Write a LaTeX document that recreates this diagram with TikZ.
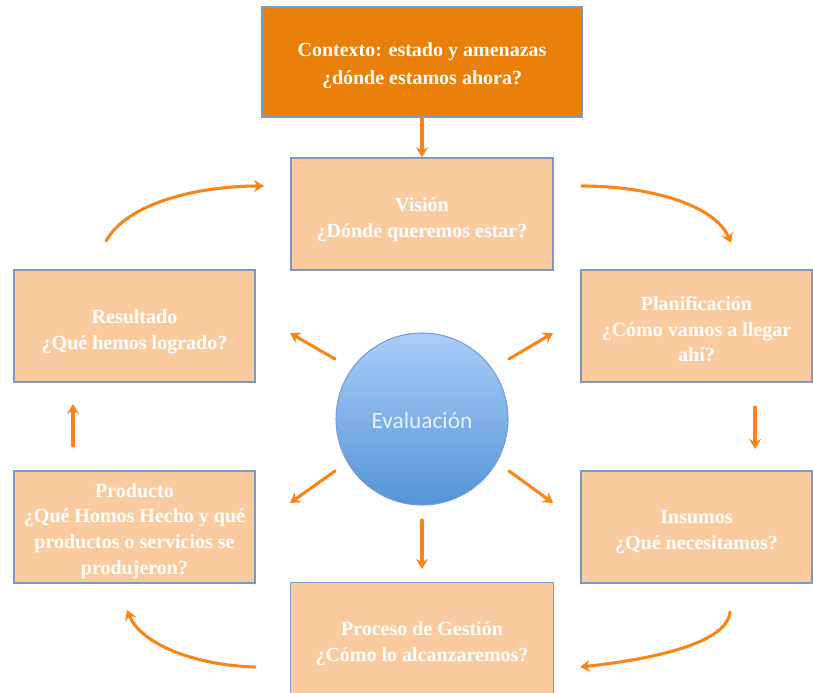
\documentclass[tikz,border=0pt]{standalone}
\usepackage{fontspec}
\setmainfont{Liberation Serif}
\newfontfamily\evalfont{Carlito}
\usetikzlibrary{arrows.meta,shadows}
\definecolor{ctxfill}{RGB}{233,128,9}
\definecolor{peach}{RGB}{251,203,160}
\definecolor{boxline}{RGB}{124,152,196}
\definecolor{arrorange}{RGB}{250,132,22}
\definecolor{circtop}{RGB}{170,205,250}
\definecolor{circbot}{RGB}{84,148,214}
\definecolor{circline}{RGB}{118,158,212}
\definecolor{evaltext}{RGB}{232,240,250}
\begin{document}
\begin{tikzpicture}[x=0.75pt,y=-0.75pt,
  stagebox/.style={draw=boxline, line width=1.1pt, fill=peach, inner sep=0pt,
    drop shadow={shadow xshift=0.6pt, shadow yshift=-0.9pt, fill=black!35, opacity=0.6}},
  stagetext/.style={text=white, font=\fontsize{15}{19.3}\selectfont\bfseries,
    align=center, inner sep=0pt},
  arr/.style={draw=arrorange, line width=2.3pt, line cap=round,
    -{Stealth[length=7.5pt,width=9pt,inset=2.5pt]}},
]
\useasboundingbox (0,0) rectangle (813,692);
% boxes
\node[stagebox, fill=ctxfill, minimum width=240pt, minimum height=82.5pt] (ctx) at (422,62) {};
\node[stagebox, minimum width=196.5pt, minimum height=84pt] (vis) at (422,214) {};
\node[stagebox, minimum width=180.75pt, minimum height=84pt] (res) at (134.5,326) {};
\node[stagebox, minimum width=173.25pt, minimum height=84pt] (pla) at (696.5,326) {};
\node[stagebox, minimum width=180.75pt, minimum height=84pt] (prd) at (134.5,527) {};
\node[stagebox, minimum width=173.25pt, minimum height=84pt] (ins) at (696.5,527) {};
\node[stagebox, minimum width=197.25pt, minimum height=85pt] (ges) at (422,639) {};
% box texts
\node[stagetext, font=\fontsize{15}{21}\selectfont\bfseries] (ctxtxt) at ([yshift=-3pt]ctx.center)
  {Contexto: estado y amenazas\\¿dónde estamos ahora?};
\node[stagetext] (vistxt) at ([yshift=-4.5pt]vis.center)
  {Visión\\¿Dónde queremos estar?};
\node[stagetext] (restxt) at ([yshift=-4.5pt]res.center)
  {Resultado\\¿Qué hemos logrado?};
\node[stagetext] (platxt) at ([yshift=-2.5pt]pla.center)
  {Planificación\\¿Cómo vamos a llegar\\ahí?};
\node[stagetext] (prdtxt) at ([yshift=-3pt]prd.center)
  {Producto\\¿Qué Homos Hecho y qué\\productos o servicios se\\produjeron?};
\node[stagetext] (instxt) at ([yshift=-4pt]ins.center)
  {Insumos\\¿Qué necesitamos?};
\node[stagetext] (gestxt) at ([yshift=-3.5pt]ges.center)
  {Proceso de Gestión\\¿Cómo lo alcanzaremos?};
% circle
\node[circle, minimum size=129pt, inner sep=0pt, draw=circline, line width=0.8pt,
  top color=circtop, bottom color=circbot] (eval) at (422,419) {};
\node[font=\evalfont\fontsize{17.5}{20}\selectfont, text=evaltext] (evaltxt) at (422,420) {Evaluación};
% free ends
\coordinate (tl0) at (106,241);
\coordinate (tl1) at (264,186);
\coordinate (tr0) at (582,186);
\coordinate (tr1) at (731,243);
\coordinate (br0) at (730,612);
\coordinate (br1) at (580,667);
\coordinate (bl0) at (255,667);
\coordinate (bl1) at (127,610);
\coordinate (pu0) at (73,446);
\coordinate (pu1) at (73,404);
\coordinate (pd0) at (755,407);
\coordinate (pd1) at (755,449);
\coordinate (ed0) at (422,520);
\coordinate (ed1) at (422,569);
\coordinate (eul0) at (335,359);
\coordinate (eul1) at (290,333);
\coordinate (eur0) at (509,359);
\coordinate (eur1) at (553,333);
\coordinate (edl0) at (335,471);
\coordinate (edl1) at (290,503);
\coordinate (edr0) at (509,471);
\coordinate (edr1) at (553,503);
% connectors
\draw[arr] (ctx) -- (vis);
\draw[arr] (tl0) .. controls (128,202) and (200,186) .. (tl1);
\draw[arr] (tr0) .. controls (650,186) and (715,205) .. (tr1);
\draw[arr] (br0) .. controls (727,645) and (645,660) .. (br1);
\draw[arr] (bl0) .. controls (190,665) and (140,642) .. (bl1);
\draw[arr] (pu0) -- (pu1);
\draw[arr] (pd0) -- (pd1);
\draw[arr] (ed0) -- (ed1);
\draw[arr] (eul0) -- (eul1);
\draw[arr] (eur0) -- (eur1);
\draw[arr] (edl0) -- (edl1);
\draw[arr] (edr0) -- (edr1);
\end{tikzpicture}
\end{document}
